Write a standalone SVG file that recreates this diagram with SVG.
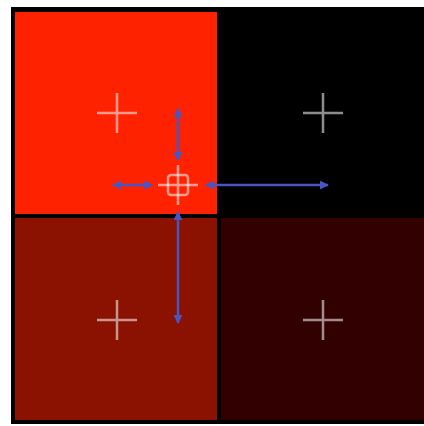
<svg xmlns="http://www.w3.org/2000/svg" width="424" height="426" viewBox="0 0 424 426">
<style>
.cross{stroke:#ffffff;stroke-opacity:0.55;stroke-width:2.5;fill:none}
.arr{stroke:#4856c4;stroke-width:2.5;fill:none;marker-start:url(#ah);marker-end:url(#ah)}
</style>
<defs>
<marker id="ah" viewBox="0 0 10 10" refX="9" refY="5" markerWidth="3.6" markerHeight="3.6" orient="auto-start-reverse">
<path d="M0,0 L10,5 L0,10 z" fill="#4856c4"/>
</marker>
</defs>
<rect width="424" height="426" fill="#ffffff"/>
<rect x="11" y="7" width="420" height="417" fill="#000000"/>
<g id="cell-tl"><rect x="15" y="12" width="202" height="202" fill="#ff2200"/><path class="cross" d="M97,113 H137 M117,93 V133"/></g>
<g id="cell-tr"><rect x="221" y="12" width="210" height="202" fill="#000000"/><path class="cross" d="M303,113 H343 M323,93 V133"/></g>
<g id="cell-bl"><rect x="15" y="218" width="202" height="202" fill="#8b1100"/><path class="cross" d="M97,320 H137 M117,300 V340"/></g>
<g id="cell-br"><rect x="221" y="218" width="210" height="202" fill="#330000"/><path class="cross" d="M303,320 H343 M323,300 V340"/></g>
<g id="marker"><path class="cross" d="M158,185 H198 M178,165 V205"/><rect x="168" y="175" width="20" height="20" rx="3" class="cross" stroke-opacity="0.8"/></g>
<g id="connectors">
<line class="arr" x1="178" y1="109" x2="178" y2="160"/>
<line class="arr" x1="113" y1="185" x2="152" y2="185"/>
<line class="arr" x1="206" y1="185" x2="328" y2="185"/>
<line class="arr" x1="178" y1="212" x2="178" y2="323"/>
</g>
</svg>
